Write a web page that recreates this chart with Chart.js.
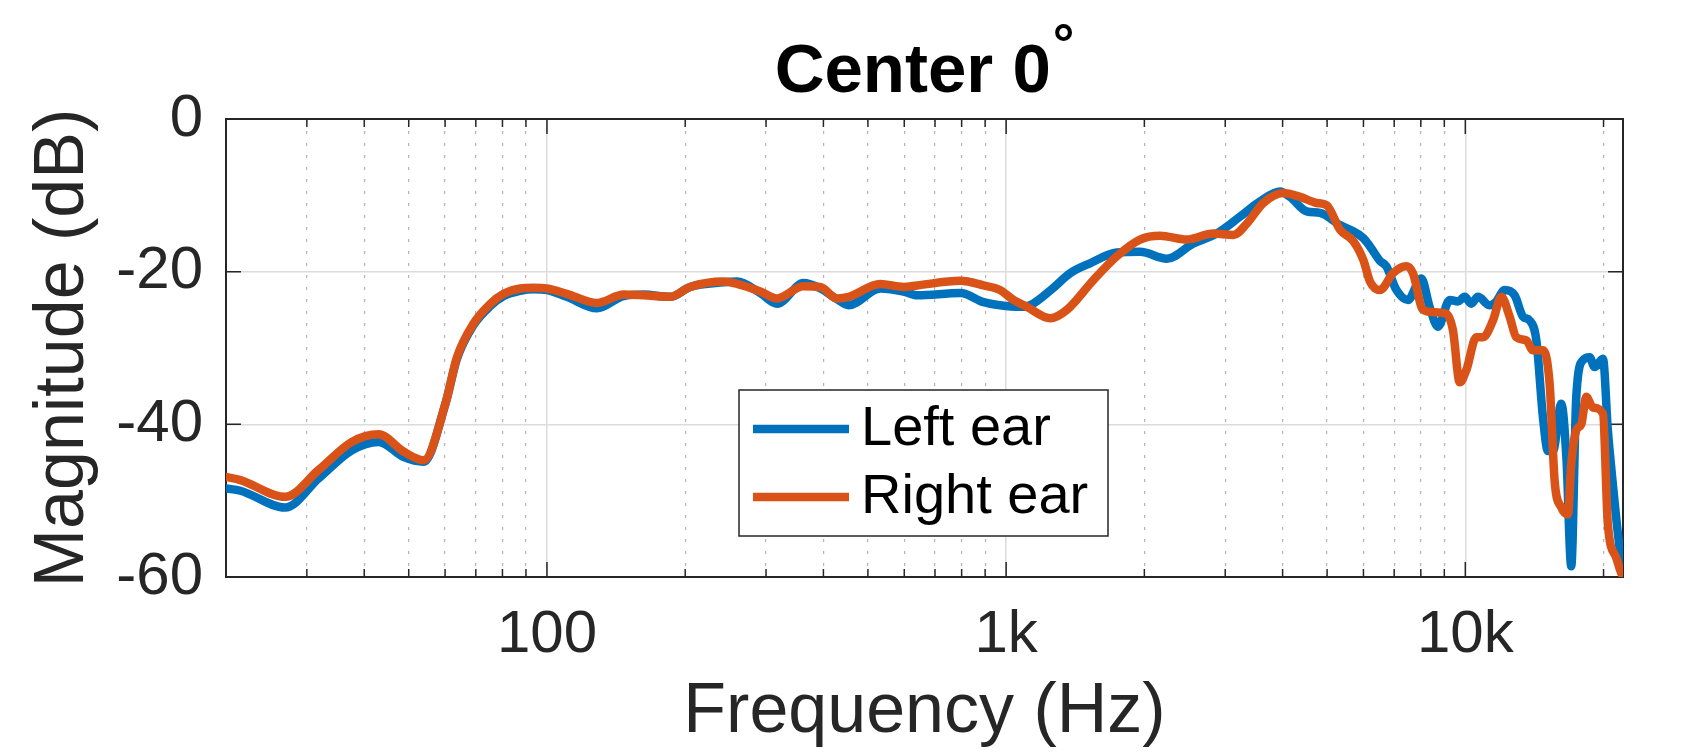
<!DOCTYPE html>
<html>
<head>
<meta charset="utf-8">
<script src="https://cdn.jsdelivr.net/npm/chart.js@4.4.1/dist/chart.umd.min.js"></script>
<style>
  html, body { margin: 0; padding: 0; background: #fff; }
  canvas { display: block; }
</style>
</head>
<body>
<canvas id="hrtfChart" width="1691" height="753"></canvas>
<script>
// data (frequency in Hz, magnitude in dB)
const leftFreq = [20, 21.5, 26.9, 31.8, 37.6, 43, 48.8, 53.9, 60.1, 63.7, 69.2, 75.3, 80.5, 87.5, 93.5,
  100, 110.5, 128.5, 146.9, 162.4, 185.6, 205, 242.5, 259.4, 291.5, 317, 362, 394, 428, 454, 532,
  598, 640, 795, 893, 970, 1072, 1128, 1257, 1378, 1523, 1741, 1958, 2239, 2558, 2875, 3230, 3573,
  3950, 4150, 4514, 4827, 5335, 5610, 5998, 6200, 6520, 6730, 7080, 7500, 8020, 8360, 8720, 9250,
  9640, 9970, 10300, 10655, 11300, 11680, 12180, 12810, 13355, 13805, 14280, 14760, 15135, 15520,
  16183, 16600, 17010, 17445, 18030, 18650, 19120, 19940, 20440, 20960, 21500, 22050];
const leftDb = [-48.4, -48.7, -50.9, -47.1, -43.4, -42.3, -44.3, -44.9, -37.3, -31.4, -27.0, -24.5, -23.2, -22.5, -22.3,
  -22.4, -23.3, -24.8, -23.2, -23.0, -23.3, -22.0, -21.4, -21.3, -22.8, -24.2, -21.5, -22.2, -23.6, -24.4, -22.2,
  -22.6, -23.1, -22.8, -24.0, -24.4, -24.6, -24.4, -22.3, -20.2, -18.9, -17.5, -17.4, -18.3, -16.3, -15.0, -12.8, -10.8,
  -9.5, -10.2, -12.1, -12.3, -13.9, -14.5, -15.6, -16.7, -18.6, -19.3, -22.4, -23.7, -20.9, -24.6, -27.2, -23.7,
  -23.9, -23.3, -24.2, -23.3, -24.4, -23.9, -22.4, -23.1, -25.9, -26.4, -29.0, -39.1, -43.5, -43.5,
  -37.3, -44.3, -58.6, -36.4, -31.6, -31.2, -32.5, -31.4, -40.8, -47.9, -54.4, -59.6];

const rightFreq = [20, 21.5, 26.9, 31.8, 37.6, 43, 48.8, 53.9, 60.1, 63.7, 69.2, 75.3, 80.5, 87.5, 93.5,
  100, 110.5, 128.5, 146.9, 162.4, 185.6, 205, 242.5, 259.4, 291.5, 317, 362, 394, 428, 454, 532,
  598, 640, 795, 893, 970, 1037, 1109, 1247, 1356, 1549, 1741, 1957, 2164, 2474, 2826, 3126, 3343,
  3632, 4017, 4365, 4747, 4990, 5335, 5705, 6000, 6200, 6520, 6960, 7430, 7690, 8090, 8510, 9090,
  9400, 9725, 10050, 10566, 10927, 11486, 11979, 12490, 12913, 13580, 14040, 14760, 15263, 15650,
  16183, 16730, 17010, 17445, 17886, 18337, 18960, 19940, 20440, 21320, 21860, 22050];
const rightDb = [-46.9, -47.3, -49.5, -46.0, -42.3, -41.3, -43.6, -44.7, -37.3, -31.2, -26.8, -24.2, -22.9, -22.2, -22.1,
  -22.2, -22.9, -24.1, -23.0, -23.1, -23.3, -22.0, -21.3, -21.6, -22.6, -23.5, -21.9, -22.0, -23.5, -23.3, -21.6,
  -22.0, -21.8, -21.2, -21.8, -22.4, -23.7, -24.6, -26.1, -25.0, -21.1, -18.0, -15.8, -15.3, -15.8, -15.0, -15.2, -13.7,
  -11.0, -9.7, -10.2, -11.0, -11.3, -14.5, -16.0, -18.5, -21.3, -22.4, -20.2, -19.3, -20.2, -25.0, -25.3, -25.5,
  -27.7, -34.5, -32.9, -28.6, -28.6, -26.4, -23.3, -25.9, -28.6, -29.0, -30.3, -30.3, -34.7, -47.4,
  -50.9, -51.8, -45.2, -40.8, -40.0, -36.4, -37.8, -38.6, -53.1, -57.5, -59.5, -59.8];

const seriesNames = ['Left ear', 'Right ear'];
const seriesColors = ['#0072BD', '#D95319'];

// axis ticks
const xGridTicks = [20, 30, 40, 50, 60, 70, 80, 90, 100, 200, 300, 400, 500, 600, 700, 800, 900,
  1000, 2000, 3000, 4000, 5000, 6000, 7000, 8000, 9000, 10000, 20000];
const xLabelValues = [100, 1000, 10000];
const xLabelTexts = ['100', '1k', '10k'];
const yTicks = [-60, -40, -20, 0];

const FONT = '"Liberation Sans", Arial, Helvetica, sans-serif';
const AXIS_COLOR = '#262626';

function toPoints(xs, ys) {
  return xs.map((f, i) => ({ x: f, y: ys[i] }));
}

// title "Center 0" with a superscript degree ring, centred over the axes
const titleSup = {
  id: 'titleSup',
  afterDraw(chart) {
    const { ctx, chartArea: a } = chart;
    ctx.save();
    ctx.fillStyle = '#000';
    ctx.textBaseline = 'alphabetic';
    ctx.font = 'bold 69px ' + FONT;
    const main = 'Center 0';
    const w1 = ctx.measureText(main).width;
    ctx.font = 'bold 54px ' + FONT;
    const w2 = ctx.measureText('°').width;
    const x0 = (a.left + a.right) / 2 - (w1 + 2 + w2) / 2;
    ctx.font = 'bold 69px ' + FONT;
    ctx.fillText(main, x0, 92);
    ctx.font = 'bold 54px ' + FONT;
    ctx.fillText('°', x0 + w1 + 2, 62);
    ctx.restore();
  }
};

// axes box and inward tick marks
const boxTicks = {
  id: 'boxTicks',
  beforeDatasetsDraw(chart) {
    const { ctx, chartArea: a, scales: { x, y } } = chart;
    ctx.save();
    ctx.strokeStyle = AXIS_COLOR;
    ctx.lineWidth = 1.5;
    ctx.beginPath();
    x.ticks.forEach(t => {
      const px = x.getPixelForValue(t.value);
      const len = xLabelValues.includes(t.value) ? 15 : 8;
      ctx.moveTo(px, a.bottom); ctx.lineTo(px, a.bottom - len);
      ctx.moveTo(px, a.top); ctx.lineTo(px, a.top + len);
    });
    y.ticks.forEach(t => {
      const py = y.getPixelForValue(t.value);
      ctx.moveTo(a.left, py); ctx.lineTo(a.left + 15, py);
      ctx.moveTo(a.right, py); ctx.lineTo(a.right - 15, py);
    });
    ctx.stroke();
    ctx.lineWidth = 2;
    ctx.strokeRect(a.left, a.top, a.right - a.left, a.bottom - a.top);
    ctx.restore();
  }
};

// legend box inside the axes
const innerLegend = {
  id: 'innerLegend',
  afterDraw(chart) {
    const { ctx, chartArea: a } = chart;
    const bx = a.left + 513, by = a.top + 271, bw = 369, bh = 146;
    ctx.save();
    ctx.fillStyle = '#fff';
    ctx.fillRect(bx, by, bw, bh);
    ctx.strokeStyle = AXIS_COLOR;
    ctx.lineWidth = 1.5;
    ctx.strokeRect(bx, by, bw, bh);
    ctx.font = '56px ' + FONT;
    ctx.textBaseline = 'middle';
    ctx.fillStyle = '#000';
    chart.data.datasets.forEach((ds, i) => {
      const ly = by + 39 + i * 68;
      ctx.strokeStyle = ds.borderColor;
      ctx.lineWidth = 8.5;
      ctx.beginPath();
      ctx.moveTo(bx + 14, ly);
      ctx.lineTo(bx + 110, ly);
      ctx.stroke();
      ctx.fillText(ds.label, bx + 122, ly + 1);
    });
    ctx.restore();
  }
};

new Chart(document.getElementById('hrtfChart'), {
  type: 'line',
  data: {
    datasets: [
      { label: seriesNames[0], data: toPoints(leftFreq, leftDb), borderColor: seriesColors[0], order: 1 },
      { label: seriesNames[1], data: toPoints(rightFreq, rightDb), borderColor: seriesColors[1], order: 0 }
    ]
  },
  options: {
    responsive: false,
    devicePixelRatio: 1,
    animation: false,
    layout: { padding: { left: 0, right: 68, top: 119, bottom: 0 } },
    elements: {
      point: { radius: 0 },
      line: { borderWidth: 8.5, cubicInterpolationMode: 'monotone', borderCapStyle: 'round', borderJoinStyle: 'round' }
    },
    plugins: {
      legend: { display: false },
      tooltip: { enabled: false },
      title: { display: false }
    },
    scales: {
      x: {
        type: 'logarithmic',
        min: 20,
        max: 22050,
        afterBuildTicks: axis => { axis.ticks = xGridTicks.map(v => ({ value: v })); },
        afterFit: axis => { axis.height = 176; },
        grid: {
          drawTicks: false,
          color: c => xLabelValues.includes(c.tick && c.tick.value) ? '#dcdcdc' : '#b4b4b4',
          lineWidth: c => xLabelValues.includes(c.tick && c.tick.value) ? 1.5 : 1.2
        },
        border: {
          display: false,
          dash: c => xLabelValues.includes(c.tick && c.tick.value) ? [] : [3, 9]
        },
        ticks: {
          autoSkip: false,
          maxRotation: 0,
          padding: 22,
          color: AXIS_COLOR,
          font: { family: FONT, size: 60, lineHeight: 1.2 },
          callback: v => {
            const k = xLabelValues.indexOf(v);
            return k >= 0 ? xLabelTexts[k] : '';
          }
        },
        title: {
          display: true,
          text: 'Frequency (Hz)',
          color: AXIS_COLOR,
          font: { family: FONT, size: 70, lineHeight: 1 },
          padding: { top: 0, bottom: 5 }
        }
      },
      y: {
        type: 'linear',
        min: -60,
        max: 0,
        afterBuildTicks: axis => { axis.ticks = yTicks.map(v => ({ value: v })); },
        afterFit: axis => { axis.width = 226; },
        grid: { drawTicks: false, color: '#dcdcdc', lineWidth: 1.5 },
        border: { display: false },
        ticks: {
          padding: 23,
          color: AXIS_COLOR,
          font: { family: FONT, size: 60, lineHeight: 1.2 },
          callback: v => String(v)
        },
        title: {
          display: true,
          text: 'Magnitude (dB)',
          color: AXIS_COLOR,
          font: { family: FONT, size: 70, lineHeight: 1.2 },
          padding: { top: 22, bottom: 0 }
        }
      }
    }
  },
  plugins: [boxTicks, innerLegend, titleSup]
});
</script>
</body>
</html>
